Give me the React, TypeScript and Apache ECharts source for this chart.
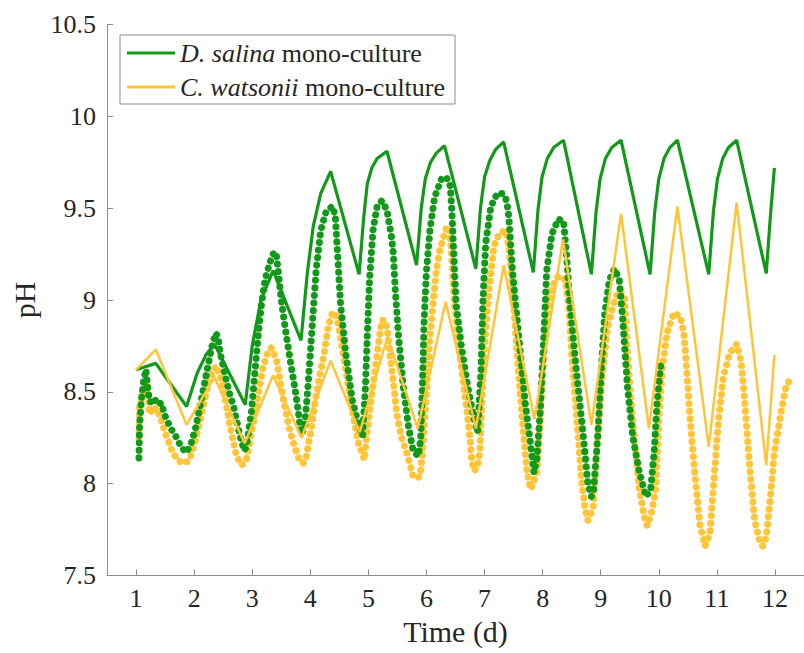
import React, { useEffect, useRef } from "react";
import * as echarts from "echarts";

const DS_NAME = "D. salina mono-culture";
const CW_NAME = "C. watsonii mono-culture";
const X_TICKS = [1, 2, 3, 4, 5, 6, 7, 8, 9, 10, 11, 12];

// Model curves (time in days, pH)
const dsModel: [number, number][] = [
  [1.0, 8.62], [1.34, 8.655], [1.87, 8.42], [2.05, 8.6], [2.2, 8.7], [2.35, 8.76],
  [2.88, 8.43], [3.0, 8.75], [3.15, 9.0], [3.36, 9.16], [3.84, 8.78], [3.95, 9.15],
  [4.05, 9.4], [4.18, 9.58], [4.35, 9.7], [4.84, 9.14], [4.92, 9.45], [4.98, 9.63],
  [5.06, 9.72], [5.15, 9.77], [5.32, 9.81], [5.83, 9.19], [5.91, 9.5], [5.98, 9.66],
  [6.07, 9.75], [6.17, 9.8], [6.31, 9.84], [6.85, 9.17], [6.93, 9.5], [7.0, 9.67],
  [7.09, 9.76], [7.19, 9.82], [7.33, 9.86], [7.84, 9.15], [7.92, 9.49], [7.99, 9.67],
  [8.08, 9.77], [8.19, 9.83], [8.36, 9.87], [8.84, 9.14], [8.92, 9.48], [8.99, 9.66],
  [9.08, 9.77], [9.19, 9.83], [9.35, 9.87], [9.85, 9.14], [9.93, 9.48], [10.0, 9.66],
  [10.09, 9.77], [10.19, 9.83], [10.32, 9.87], [10.86, 9.14], [10.94, 9.48], [11.01, 9.66],
  [11.1, 9.77], [11.2, 9.83], [11.34, 9.87], [11.85, 9.145], [11.92, 9.45], [11.99, 9.72],
];

const cwModel: [number, number][] = [
  [1.0, 8.62], [1.34, 8.73], [1.87, 8.32], [2.35, 8.58], [2.87, 8.22], [3.36, 8.59],
  [3.85, 8.25], [4.35, 8.67], [4.85, 8.28], [5.33, 8.8], [5.85, 8.3], [6.33, 8.99],
  [6.85, 8.3], [7.33, 9.19], [7.86, 8.35], [8.35, 9.33], [8.84, 8.32], [9.35, 9.47],
  [9.83, 8.3], [10.32, 9.51], [10.86, 8.2], [11.34, 9.53], [11.85, 8.1], [11.99, 8.7],
];

// Measured data
const dsMeasured: [number, number][] = [
  [1.05, 8.14], [1.06, 8.31], [1.09, 8.45], [1.13, 8.56], [1.17, 8.62], [1.21, 8.5],
  [1.23, 8.45], [1.28, 8.44], [1.32, 8.46], [1.38, 8.43], [1.43, 8.44], [1.51, 8.36],
  [1.6, 8.3], [1.68, 8.26], [1.76, 8.21], [1.83, 8.18], [1.87, 8.17], [1.95, 8.22],
  [2.03, 8.31], [2.12, 8.45], [2.2, 8.58], [2.3, 8.74], [2.37, 8.82], [2.41, 8.8],
  [2.45, 8.71], [2.54, 8.58], [2.62, 8.48], [2.68, 8.42], [2.79, 8.26], [2.86, 8.18],
  [2.9, 8.2], [2.99, 8.4], [3.05, 8.62], [3.1, 8.8], [3.16, 8.98], [3.22, 9.11],
  [3.3, 9.2], [3.36, 9.25], [3.41, 9.26], [3.45, 9.15], [3.5, 9.0], [3.59, 8.8],
  [3.66, 8.66], [3.73, 8.53], [3.79, 8.4], [3.84, 8.27], [3.9, 8.3], [3.96, 8.53],
  [4.04, 8.89], [4.1, 9.16], [4.18, 9.38], [4.27, 9.48], [4.38, 9.51], [4.43, 9.46],
  [4.47, 9.25], [4.52, 8.98], [4.61, 8.71], [4.72, 8.46], [4.84, 8.31], [4.9, 8.26],
  [4.95, 8.53], [4.98, 8.8], [5.02, 9.11], [5.08, 9.38], [5.15, 9.51], [5.23, 9.54],
  [5.32, 9.49], [5.4, 9.34], [5.43, 9.25], [5.46, 9.07], [5.52, 8.8], [5.6, 8.53],
  [5.69, 8.31], [5.77, 8.18], [5.86, 8.15], [5.9, 8.24], [5.93, 8.53], [5.96, 8.89],
  [6.0, 9.16], [6.06, 9.38], [6.14, 9.56], [6.26, 9.66], [6.34, 9.67], [6.41, 9.62],
  [6.44, 9.47], [6.47, 9.25], [6.51, 8.98], [6.6, 8.75], [6.71, 8.53], [6.82, 8.35],
  [6.88, 8.28], [6.94, 8.62], [6.97, 8.98], [7.02, 9.31], [7.11, 9.51], [7.22, 9.58],
  [7.3, 9.58], [7.36, 9.56], [7.4, 9.5], [7.42, 9.44], [7.48, 9.16], [7.59, 8.8],
  [7.7, 8.44], [7.79, 8.22], [7.85, 8.06], [7.9, 8.13], [7.96, 8.4], [8.02, 8.8],
  [8.07, 9.16], [8.16, 9.36], [8.27, 9.44], [8.36, 9.43], [8.41, 9.25], [8.47, 8.98],
  [8.58, 8.62], [8.7, 8.26], [8.78, 8.0], [8.84, 7.93], [8.88, 7.97], [8.95, 8.26],
  [9.01, 8.62], [9.07, 8.93], [9.15, 9.11], [9.24, 9.17], [9.32, 9.11], [9.38, 8.89],
  [9.46, 8.53], [9.55, 8.26], [9.66, 8.07], [9.78, 7.93], [9.86, 7.97], [9.92, 8.17],
  [9.97, 8.44], [10.03, 8.64],
];

const cwMeasured: [number, number][] = [
  [1.05, 8.25], [1.06, 8.42], [1.12, 8.5], [1.2, 8.55], [1.23, 8.38], [1.28, 8.4],
  [1.32, 8.42], [1.36, 8.38], [1.4, 8.38], [1.51, 8.27], [1.63, 8.17], [1.72, 8.13],
  [1.8, 8.11], [1.88, 8.12], [1.94, 8.15], [2.01, 8.22], [2.08, 8.31], [2.17, 8.44],
  [2.25, 8.55], [2.33, 8.62], [2.39, 8.64], [2.45, 8.58], [2.51, 8.51], [2.62, 8.31],
  [2.73, 8.15], [2.82, 8.1], [2.9, 8.13], [2.97, 8.25], [3.05, 8.38], [3.12, 8.52],
  [3.19, 8.64], [3.27, 8.72], [3.33, 8.74], [3.42, 8.67], [3.49, 8.54], [3.56, 8.42],
  [3.64, 8.3], [3.73, 8.2], [3.8, 8.14], [3.87, 8.11], [3.92, 8.13], [4.0, 8.27],
  [4.07, 8.42], [4.15, 8.57], [4.24, 8.71], [4.31, 8.86], [4.38, 8.93], [4.43, 8.93],
  [4.47, 8.89], [4.54, 8.76], [4.61, 8.62], [4.68, 8.48], [4.75, 8.35], [4.83, 8.22],
  [4.89, 8.17], [4.93, 8.13], [5.0, 8.34], [5.09, 8.56], [5.17, 8.75], [5.23, 8.89],
  [5.28, 8.89], [5.32, 8.85], [5.37, 8.71], [5.43, 8.55], [5.49, 8.38], [5.57, 8.25],
  [5.66, 8.17], [5.77, 8.04], [5.83, 8.03], [5.89, 8.04], [5.94, 8.2], [6.0, 8.5],
  [6.06, 8.8], [6.12, 9.0], [6.17, 9.16], [6.23, 9.27], [6.28, 9.33], [6.35, 9.4],
  [6.4, 9.38], [6.43, 9.25], [6.48, 8.98], [6.57, 8.71], [6.68, 8.44], [6.74, 8.28],
  [6.78, 8.12], [6.82, 8.07], [6.88, 8.09], [6.92, 8.18], [6.99, 8.71], [7.08, 9.07],
  [7.16, 9.29], [7.25, 9.36], [7.36, 9.38], [7.42, 9.29], [7.48, 9.07], [7.56, 8.71],
  [7.65, 8.35], [7.73, 8.07], [7.79, 7.97], [7.84, 8.0], [7.9, 8.06], [7.99, 8.53],
  [8.07, 8.89], [8.16, 9.07], [8.27, 9.13], [8.39, 9.11], [8.45, 8.96], [8.5, 8.71],
  [8.59, 8.35], [8.67, 8.02], [8.73, 7.86], [8.78, 7.8], [8.87, 7.87], [8.93, 8.17],
  [9.01, 8.53], [9.12, 8.85], [9.24, 9.0], [9.32, 9.05], [9.41, 9.02], [9.46, 8.71],
  [9.55, 8.35], [9.66, 7.98], [9.75, 7.82], [9.8, 7.77], [9.89, 7.86], [9.95, 7.98],
  [10.0, 8.35], [10.06, 8.62], [10.14, 8.82], [10.26, 8.93], [10.37, 8.91], [10.43, 8.82],
  [10.46, 8.71], [10.54, 8.35], [10.63, 8.02], [10.71, 7.77], [10.8, 7.66], [10.88, 7.73],
  [10.94, 7.98], [11.03, 8.35], [11.11, 8.58], [11.22, 8.71], [11.34, 8.76], [11.42, 8.66],
  [11.48, 8.44], [11.57, 8.07], [11.65, 7.8], [11.74, 7.68], [11.79, 7.66], [11.85, 7.71],
  [11.91, 7.89], [11.99, 8.17], [12.1, 8.38], [12.19, 8.53], [12.25, 8.56],
];

const GREEN = "#12991a";
const YELLOW = "#fdc537";
const FONT = "Liberation Serif";
const TEXT = "#262626";
const AXIS = "#8c8c8c";

export default function App() {
  const ref = useRef<HTMLDivElement>(null);

  useEffect(() => {
    if (!ref.current) return;
    const chart = echarts.init(ref.current, undefined, { renderer: "svg" });
    const dotted = (color: string) => ({
      color,
      width: 7,
      type: [0.1, 7.5] as any,
      cap: "round" as any,
      join: "round" as any,
    });
    chart.setOption({
      animation: false,
      backgroundColor: "#ffffff",
      textStyle: { fontFamily: FONT },
      grid: { left: 107, right: -7, top: 24.5, bottom: 77.5, containLabel: false },
      legend: {
        data: [DS_NAME, CW_NAME],
        orient: "vertical",
        left: 120,
        top: 35,
        padding: [3, 10, 2, 7],
        icon: "rect",
        itemWidth: 48,
        itemHeight: 3,
        itemGap: 4,
        borderColor: AXIS,
        borderWidth: 1,
        backgroundColor: "#ffffff",
        selectedMode: false,
        formatter: (name: string) =>
          name === DS_NAME ? "{i|D. salina} mono-culture" : "{i|C. watsonii} mono-culture",
        textStyle: {
          fontFamily: FONT,
          fontSize: 26,
          lineHeight: 30,
          color: TEXT,
          rich: {
            i: { fontFamily: FONT, fontSize: 26, lineHeight: 30, fontStyle: "italic", color: TEXT },
          },
        },
      },
      xAxis: {
        type: "value",
        min: 0.5,
        max: 12.5,
        name: "Time (d)",
        nameLocation: "middle",
        nameGap: 40,
        nameTextStyle: { fontFamily: FONT, fontSize: 30, color: TEXT },
        axisLine: { show: true, lineStyle: { color: AXIS, width: 1 } },
        axisTick: { show: true, inside: true, length: 6, customValues: X_TICKS, lineStyle: { color: AXIS } },
        axisLabel: { customValues: X_TICKS, fontFamily: FONT, fontSize: 26, color: TEXT, margin: 10 },
        splitLine: { show: false },
      },
      yAxis: {
        type: "value",
        min: 7.5,
        max: 10.5,
        interval: 0.5,
        name: "pH",
        nameLocation: "middle",
        nameGap: 62,
        nameTextStyle: { fontFamily: FONT, fontSize: 30, color: TEXT },
        axisLine: { show: true, lineStyle: { color: AXIS, width: 1 } },
        axisTick: { show: true, inside: true, length: 6, lineStyle: { color: AXIS } },
        axisLabel: { fontFamily: FONT, fontSize: 26, color: TEXT, margin: 11 },
        splitLine: { show: false },
      },
      series: [
        {
          name: "C. watsonii measured",
          type: "line",
          data: cwMeasured,
          showSymbol: false,
          symbol: "none",
          silent: true,
          lineStyle: dotted(YELLOW),
          z: 1,
        },
        {
          name: "D. salina measured",
          type: "line",
          data: dsMeasured,
          showSymbol: false,
          symbol: "none",
          silent: true,
          lineStyle: dotted(GREEN),
          z: 2,
        },
        {
          name: DS_NAME,
          type: "line",
          data: dsModel,
          symbol: "none",
          silent: true,
          lineStyle: { color: GREEN, width: 3.2 },
          itemStyle: { color: GREEN },
          z: 3,
        },
        {
          name: CW_NAME,
          type: "line",
          data: cwModel,
          symbol: "none",
          silent: true,
          lineStyle: { color: YELLOW, width: 2.5 },
          itemStyle: { color: YELLOW },
          z: 4,
        },
      ],
    });
    return () => chart.dispose();
  }, []);

  return (
    <div
      ref={ref}
      style={{ position: "fixed", left: 0, top: 0, width: 804, height: 653, background: "#fff" }}
    />
  );
}
